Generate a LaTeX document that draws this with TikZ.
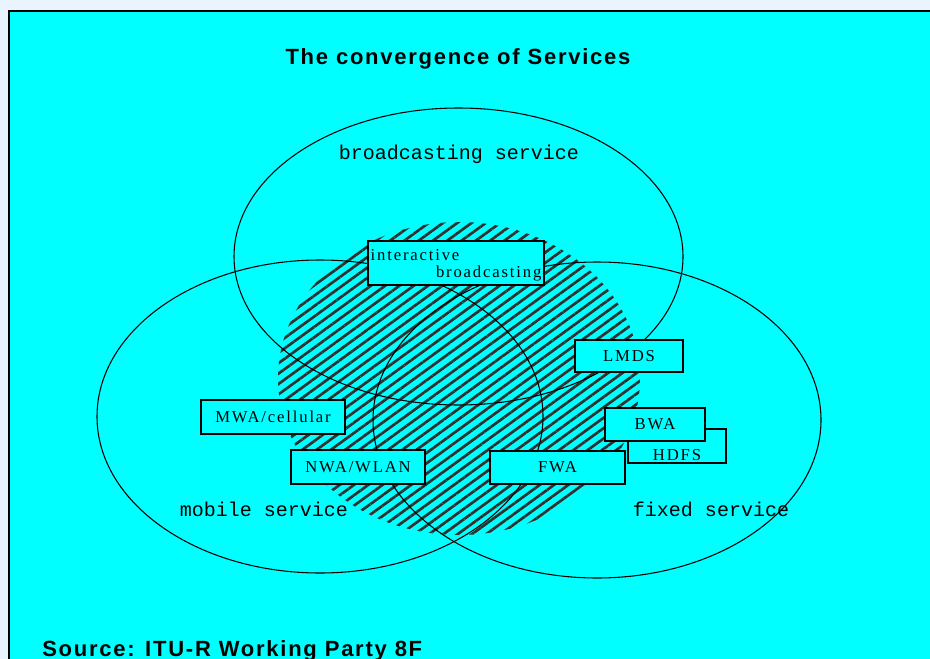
\documentclass[tikz,border=0pt]{standalone}
\usepackage{fontspec}
\setmainfont{Liberation Serif}
\newfontfamily\boxfont[LetterSpace=11]{Liberation Serif}
\newfontfamily\servfont{Liberation Mono}
\newfontfamily\headfont[LetterSpace=8]{Liberation Sans}
\usepackage{tikz}
\usetikzlibrary{patterns.meta}
\definecolor{pageMist}{HTML}{EAF4FF}
\definecolor{slideCyan}{HTML}{00FFFF}
\definecolor{hatchGrey}{HTML}{303030}

\begin{document}
\begin{tikzpicture}[
  x=0.75pt, y=-0.75pt,
  svc/.style={draw=black, line width=0.8pt},
  svclab/.style={font=\servfont\fontsize{15}{18}\selectfont, inner sep=0pt},
  tech/.style={draw=black, line width=1.1pt, fill=slideCyan, inner sep=0pt,
               font=\boxfont\fontsize{12.5}{13}\selectfont},
  headtxt/.style={font=\headfont\bfseries\fontsize{16.5}{19}\selectfont, inner sep=0pt}
]
\useasboundingbox (0,0) rectangle (930,659);
\clip (0,0) rectangle (930,659);

% ---- slide frame
\fill[pageMist] (0,0) rectangle (930,659);
\draw[fill=slideCyan, line width=1.5pt] (9,11) rectangle (950,680);

% ---- convergence zone
\fill[pattern={Lines[angle=36, distance=6.3pt, line width=2pt]}, pattern color=hatchGrey]
  (459,378.5) ellipse [x radius=181, y radius=156.5];

% ---- services
\draw[svc] (458.5,256.5) ellipse [x radius=224.5, y radius=148.5];
\draw[svc] (320,416.5)   ellipse [x radius=223,   y radius=156.5];
\draw[svc] (597,420)     ellipse [x radius=224,   y radius=158];

\node[svclab] (bcl) at (459,154) {broadcasting service};
\node[svclab] (mol) at (264,509) {mobile service};
\node[svclab] (fil) at (711,509) {fixed service};

% ---- technologies
\node[tech, minimum width=132pt, minimum height=33pt, text width=128pt, align=left]
  (ib) at (456,263) {\rule{0pt}{12pt}interactive\\\hspace*{\fill}broadcasting};
\node[tech, minimum width=81pt,    minimum height=24pt]   (lmds) at (629,356)   {LMDS};
\node[tech, minimum width=108pt,   minimum height=25.5pt] (mwa)  at (273,417)   {MWA/cellular};
\node[tech, minimum width=73.5pt,  minimum height=25.5pt] (hdfs) at (677,446)
  {\raisebox{-11pt}[0pt][0pt]{HDFS}};
\node[tech, minimum width=75pt,    minimum height=24.75pt] (bwa) at (655,424.5) {BWA};
\node[tech, minimum width=100.5pt, minimum height=25.5pt] (nwa)  at (358,467)   {NWA/WLAN};
\node[tech, minimum width=101.25pt,minimum height=24.75pt] (fwa) at (557.5,467.5) {FWA};

% ---- captions
\node[headtxt] (title) at (458,59) {The convergence of Services};
\node[headtxt, anchor=base west] (src) at (42,656) {Source: ITU-R Working Party 8F};
\end{tikzpicture}
\end{document}
